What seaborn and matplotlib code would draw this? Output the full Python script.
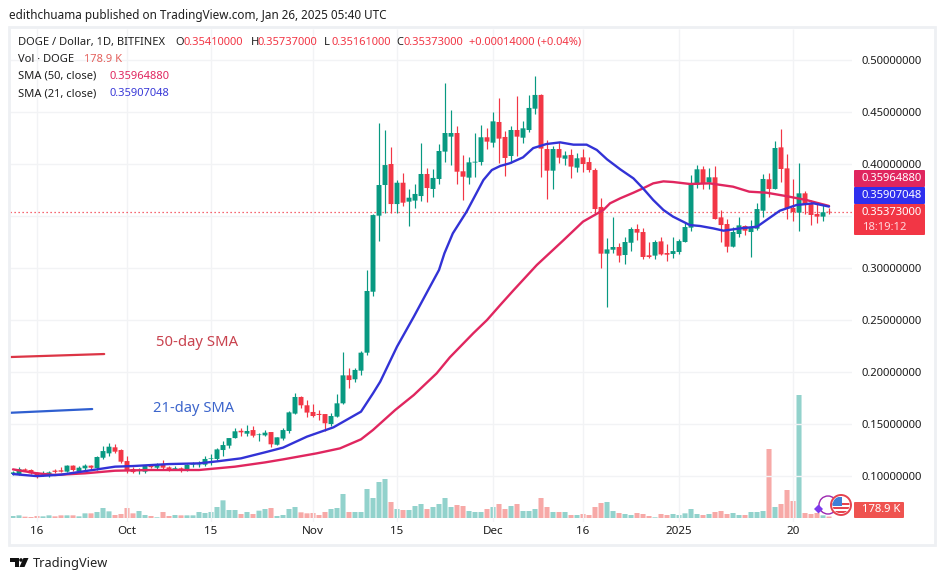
import matplotlib
matplotlib.use('Agg')
import matplotlib.pyplot as plt
import matplotlib.patches as patches
import pandas as pd
import seaborn as sns

# Daily candles, Sep 12 2024 to Jan 26 2025 (day 0 = Sep 12)
opens = [.102, .1019, .1064, .1058, .1032, .1015, .1, .1052, .1055, .1042, .11, .1048, .1074, .11, .1077, .1176, .1218,
         .1276, .125, .1144, .1067, .1048, .1042, .11, .108, .1115, .1083, .1065, .1074, .1052, .1106, .1105, .1109,
         .1164, .1164, .125, .1292, .1365, .1435, .1407, .1442, .1394, .1391, .1423, .1301, .136, .1433, .16, .176,
         .168, .1616, .1597, .1596, .15, .1571, .1699, .1968, .193, .2013, .2186, .2772, .3503, .3798, .40, .3615,
         .382, .3638, .3648, .3692, .3904, .376, .3856, .4119, .4263, .4298, .393, .3869, .4014, .4019, .4257, .4205,
         .4404, .426, .4077, .4327, .4253, .4327, .4532, .4664, .4144, .3936, .4144, .4051, .4087, .3965, .4064, .4019,
         .3942, .3587, .3138, .3176, .3202, .3125, .3243, .3375, .3346, .3122, .3119, .3256, .3144, .3135, .3154, .325,
         .3388, .3801, .3949, .3822, .3872, .3487, .3423, .3205, .3327, .3404, .3346, .3378, .3551, .3853, .376, .416,
         .3958, .3577, .3532, .3718, .3615, .3519, .3494, .3541]
highs = [.105, .1083, .1075, .1065, .104, .1045, .1052, .107, .1085, .111, .1105, .11, .1115, .111, .1195, .129, .1315,
         .1307, .126, .119, .1085, .108, .1105, .111, .113, .115, .1095, .11, .109, .112, .1135, .114, .119, .121,
         .1265, .1335, .137, .1465, .1465, .1495, .148, .1415, .1445, .1425, .1375, .1465, .1625, .1795, .177, .1728,
         .169, .1635, .1596, .1603, .1789, .2193, .2036, .2036, .2205, .2981, .352, .4391, .4327, .4166, .3846, .3916,
         .3759, .3805, .4199, .3958, .3949, .4192, .4776, .452, .4366, .4087, .4064, .4295, .4375, .4343, .4497, .4632,
         .4321, .4366, .4654, .4414, .4664, .4846, .4673, .4231, .4173, .4215, .4128, .4141, .4109, .4144, .4064,
         .3958, .367, .3285, .3487, .3237, .3295, .3397, .342, .3381, .3247, .3269, .3301, .3227, .3295, .3279, .3445,
         .3894, .399, .3981, .3958, .3981, .3558, .3468, .3397, .3487, .341, .3462, .3622, .3904, .391, .4224, .4336,
         .4096, .3853, .4006, .3744, .3654, .3622, .3606, .35737]
lows = [.101, .1013, .1045, .1015, .0985, .1, .099, .103, .1035, .104, .1045, .103, .106, .1065, .106, .116, .119,
        .122, .1125, .1025, .103, .1015, .103, .1075, .107, .107, .1045, .1055, .1035, .1045, .1085, .109, .1095,
        .1105, .1155, .119, .1265, .1365, .1385, .1385, .1375, .1335, .1385, .128, .1295, .135, .1415, .1593, .165,
        .157, .1565, .1539, .1436, .148, .1564, .1693, .185, .1907, .1972, .2163, .2734, .3263, .3525, .3532, .3532,
        .3596, .3407, .358, .3648, .3638, .3686, .3808, .4023, .399, .3808, .3654, .3808, .3875, .399, .4144, .4167,
        .4013, .3885, .4013, .4077, .4205, .4305, .4478, .3878, .3664, .376, .4007, .399, .3869, .3926, .3926, .3926,
        .3519, .3003, .2628, .3147, .3061, .3035, .3163, .3269, .3086, .3099, .3083, .3125, .3067, .3099, .3131, .325,
        .3359, .3772, .376, .376, .3471, .3253, .3157, .3205, .3295, .3317, .3109, .3365, .3494, .3679, .376, .383,
        .3468, .3455, .3359, .3519, .3413, .3429, .3455, .35161]
closes = [.1035, .1067, .1052, .1026, .0994, .1027, .1035, .104, .1042, .11, .1058, .108, .11, .108, .1183, .124, .1282,
          .1234, .1138, .1048, .1038, .1057, .1096, .1085, .1115, .108, .1058, .1075, .1052, .1106, .1112, .111, .1164,
          .117, .1256, .1298, .1365, .143, .142, .1433, .1388, .14, .1417, .1305, .1372, .1442, .1612, .176, .168,
          .161, .1577, .1587, .1507, .1577, .1699, .1968, .1923, .202, .2186, .2779, .3509, .3798, .399, .3615, .382,
          .3628, .3676, .3712, .3904, .3769, .3866, .4125, .4298, .4298, .3926, .3878, .4016, .4022, .4257, .4215, .441,
          .4244, .4058, .4327, .4263, .4343, .4539, .4664, .4148, .3936, .4144, .4061, .4083, .3975, .4055, .40, .3942,
          .3567, .3138, .3179, .3202, .3119, .325, .3375, .334, .3106, .3106, .325, .3131, .3128, .3163, .3259, .3394,
          .3808, .3949, .3808, .3872, .3471, .3413, .3205, .3346, .341, .3359, .3385, .3567, .3856, .376, .4154, .3952,
          .3574, .3538, .3718, .3615, .351, .3494, .35359, .35373]
# volume in millions of DOGE
volumes = [.24, .32, .16, .12, .24, .2, .32, .2, .32, .32, .32, .2, .56, .56, .72, 1.2, .8, .36, .48, 1.2, .56, .84, .36,
           .24, .08, .72, .24, .36, .32, .32, .32, .72, .6, .72, 1.32, 2.12, .96, .96, .48, .72, .48, .88, 1.08, 1.2,
           .24, .36, 1.08, 1.32, .68, .56, .6, .36, .72, 1.08, 1.2, 2.88, .72, .72, .72, 3.48, 2.4, 4.32, 4.68, 1.92,
           1.08, .96, .96, 1.44, 1.68, 1.08, 1.32, 1.68, 2.4, 1.32, 1.56, 1.44, .84, .72, .72, 1.08, 1.32, 1.68, 1.08,
           1.44, 1.68, .84, .84, 1.08, 2.4, 1.32, .72, .72, .72, .36, .36, .48, .36, 1.32, 1.8, 1.92, .84, .6, .48,
           .36, .6, .48, .24, .08, .48, .36, .48, .36, .56, 1.08, .48, .36, .48, .72, .84, .48, .6, .36, .36, .72, .72,
           .84, 8.28, 1.32, 1.68, 3.36, 2.04, 14.76, .6, .48, .6, .32, .179]

sma21_days = [0, 4, 8, 14, 17, 20, 26, 31, 34, 38, 42, 45, 49, 53.4, 58, 60, 61.2, 64, 66.8, 69.5, 71, 71.9, 73.3, 75.6,
              78.4, 79.8, 81.2, 82.8, 85, 86.7, 88.9, 91.2, 93.4, 95.6, 97.3, 99, 101.2, 103.4, 105, 106.7, 108.4, 110,
              112.8, 114.5, 116.7, 118.4, 121.2, 124, 125.6, 127.8, 130.6, 133.4, 136]
sma21 = [.1019, .0999, .1013, .1064, .109, .1096, .1115, .1122, .1141, .117, .1228, .1273, .1379, .1468, .1619, .1795,
         .1907, .2244, .2532, .2821, .2981, .3141, .3333, .3542, .3846, .3942, .3981, .4007, .4064, .4153, .4192, .4208,
         .4186, .4186, .4135, .4045, .3949, .3862, .3766, .3654, .3558, .3494, .3413, .3404, .3381, .3359, .3381, .3397,
         .3462, .3551, .3606, .3622, .35907]
sma50_days = [0, 4, 7, 12, 17, 23, 31, 37, 42, 45, 50.6, 54.5, 58, 60, 63.7, 66.8, 70.6, 72.8, 76.7, 79, 81.2, 83.4,
              87.3, 91.7, 95, 98.4, 99.5, 101.2, 103.4, 105, 106.7, 108.4, 110, 112.8, 116.1, 120, 122.7, 125.6, 128.8,
              132.2, 136]
sma50 = [.1064, .1026, .101, .1026, .1051, .1058, .1058, .109, .1131, .116, .1218, .1266, .1353, .1443, .1635, .1779,
         .1987, .2141, .2372, .25, .2644, .2785, .3029, .3265, .3446, .3558, .3622, .367, .3724, .3766, .3814, .3833,
         .3827, .3808, .3814, .3782, .3734, .3724, .3692, .3654, .35965]

price_ticks = [.10, .15, .20, .25, .30, .40, .45, .50]
grid_prices = [.10, .15, .20, .25, .30, .35, .40, .45, .50]
date_ticks = [4, 19, 33, 50, 64, 80, 95, 111, 130]
date_labels = ['16', 'Oct', '15', 'Nov', '15', 'Dec', '16', '2025', '20']
last_close = .35373

# hand drawn notes on the chart
note50_days, note50_prices = [-0.5, 15.2], [.2144, .2173]
note21_days, note21_prices = [-0.5, 13.2], [.1608, .1644]

GREEN, RED = '#089981', '#f23645'
VOL_GREEN, VOL_RED = '#92d2cc', '#f7a9a7'
BLUE_LINE, PINK_LINE = '#3232d6', '#e0265f'
GRID = '#f2f3f5'
FONT = 'Noto Sans'

df = pd.DataFrame({'day': range(len(closes)), 'open': opens, 'high': highs, 'low': lows, 'close': closes,
                   'volume': volumes})
df['up'] = df['close'] >= df['open']

sns.set_theme(style='white')
plt.rcParams['font.family'] = [FONT, 'DejaVu Sans']

W, H = 945, 581
fig = plt.figure(figsize=(W / 100, H / 100), dpi=100, facecolor='white')
pos = [10 / W, 1 - 522 / H, 842 / W, 493 / H]
ax = fig.add_axes(pos)
ax_vol = ax.twinx()
ax.set_zorder(2)
ax_vol.set_zorder(1)
ax.patch.set_visible(False)

# volume along the bottom
sns.barplot(data=df, x='day', y='volume', hue='up', palette={True: VOL_GREEN, False: VOL_RED}, native_scale=True,
            dodge=False, saturation=1, width=0.8, linewidth=0, legend=False, ax=ax_vol)
# seaborn narrows the bars with native_scale, put them back to nearly touching
for p in ax_vol.patches:
    center = p.get_x() + p.get_width() / 2
    p.set_width(0.84)
    p.set_x(center - 0.42)
    p.set_edgecolor('none')
    p.set_snap(False)
ax_vol.set_ylim(-0.48, 58.68)
ax_vol.set_axis_off()

# grid
ax.hlines(grid_prices, -0.5, 139.83, color=GRID, lw=1, zorder=0)
ax.vlines(date_ticks, .0558, .5298, color=GRID, lw=1, zorder=0)

# candles
colors = [GREEN if u else RED for u in df['up']]
ax.vlines(df['day'], df['low'], df['high'], color=colors, lw=0.85, zorder=2)
bodies = ax.bar(df['day'], (df['close'] - df['open']).abs(), bottom=df[['open', 'close']].min(axis=1), width=0.82,
                color=colors, linewidth=0, zorder=3)
for b in bodies:
    b.set_snap(False)

# last price line
ax.axhline(last_close, color=RED, lw=0.9, ls=(0, (1, 2.2)), zorder=1)

# moving averages
sns.lineplot(x=sma50_days, y=sma50, color=PINK_LINE, lw=1.7, ax=ax, zorder=4)
sns.lineplot(x=sma21_days, y=sma21, color=BLUE_LINE, lw=1.7, ax=ax, zorder=4)
ax.plot(note50_days, note50_prices, color='#dc3545', lw=1.6, zorder=4)
ax.plot(note21_days, note21_prices, color='#2f5fd0', lw=1.6, zorder=4)

ax.set_xlim(-0.5, 139.83)
ax.set_ylim(.0558, .5298)
ax.yaxis.tick_right()
ax.set_yticks(price_ticks)
ax.set_yticklabels(['%.8f' % p for p in price_ticks], fontsize=8.1, color='#1c1c1c')
ax.set_xticks(date_ticks)
ax.set_xticklabels(date_labels, fontsize=8.4, color='#1c1c1c')
ax.get_xticklabels()[date_labels.index('2025')].set_fontweight('bold')
ax.tick_params(axis='y', length=0, pad=7)
ax.tick_params(axis='x', length=0, pad=3)
for s in ax.spines.values():
    s.set_visible(False)
ax.set_xlabel('')
ax.set_ylabel('')

# everything around the plot goes on an overlay in pixel units
ov = fig.add_axes([0, 0, 1, 1], zorder=5)
ov.set_xlim(0, W)
ov.set_ylim(H, 0)
ov.set_axis_off()
ov.patch.set_visible(False)


def label(x, y, s, color='#1f1f1f', size=8.0, **kw):
    ov.text(x, y, s, color=color, fontsize=size, va='center', ha=kw.pop('ha', 'left'), **kw)


ov.add_patch(patches.Rectangle((9, 27), 926, 518, fc='none', ec='#eef0f3', lw=2))
label(9, 15, 'edithchuama published on TradingView.com, Jan 26, 2025 05:40 UTC', size=8.45)

label(18, 42.5, 'DOGE / Dollar, 1D, BITFINEX')
for x, s in [(175, 'O'), (251, 'H'), (324, 'L'), (396, 'C')]:
    label(x, 42.5, s)
for x, s in [(184, '0.35410000'), (258, '0.35737000'), (331, '0.35161000'), (404, '0.35373000'),
             (469, '+0.00014000 (+0.04%)')]:
    label(x, 42.5, s, color=RED)
label(18, 59.5, 'Vol · DOGE')
label(84, 59.5, '178.9 K', color='#e4605c')
label(18, 76.5, 'SMA (50, close)')
label(110, 76.5, '0.35964880', color='#e0265f')
label(18, 93.5, 'SMA (21, close)')
label(110, 93.5, '0.35907048', color='#3a3ad8')

label(156, 343, '50-day SMA', color='#c9434f', size=10.7)
label(153, 409, '21-day SMA', color='#3d66cc', size=10.6)

# price badges
for y0, y1, c in [(170, 187, '#e0265f'), (187, 204, '#2f2fee'), (204, 235, RED), (502, 518, '#ef5350')]:
    w = 50 if y0 == 502 else 71
    ov.add_patch(patches.FancyBboxPatch((854, y0), w, y1 - y0, boxstyle='round,pad=0,rounding_size=1', fc=c, ec='none'))
label(862, 178.5, '0.35964880', color='white', size=8.1)
label(862, 195.5, '0.35907048', color='white', size=8.1)
label(862, 212.5, '0.35373000', color='white', size=8.1)
label(862, 227, '18:19:12', color='#ffd6da', size=8.1)
label(862, 510, '178.9 K', color='white', size=8.1)

# indicator icons over the last volume bars
ov.add_patch(patches.Circle((828, 505), 9, fc='white', ec='#9c27b0', lw=1))
star = patches.RegularPolygon((818.5, 509), 4, radius=4.5, fc='#7c3aed', ec='none')
ov.add_patch(star)
ov.add_patch(patches.Circle((841, 505), 10, fc='white', ec='#e5434f', lw=1.4))
flag_clip = patches.Circle((841, 505), 8.5, transform=ov.transData)
for y in [503, 507, 511]:
    r = patches.Rectangle((832, y), 18, 2.2, fc='#e5434f', ec='none')
    ov.add_patch(r)
    r.set_clip_path(flag_clip)
canton = patches.Rectangle((832, 497), 9.5, 9, fc='#3f7fd8', ec='none')
ov.add_patch(canton)
canton.set_clip_path(flag_clip)

# logo
ov.add_patch(patches.Polygon([(10, 558), (19, 558), (19, 567), (14.5, 567), (14.5, 561.5), (10, 561.5)], fc='#111', ec='none'))
ov.add_patch(patches.Circle((21, 560), 1.8, fc='#111', ec='none'))
ov.add_patch(patches.Polygon([(23.5, 558), (28.5, 558), (24.5, 567), (19.5, 567)], fc='#111', ec='none'))
label(33, 563, 'TradingView', size=9.2, color='#222')

fig.savefig('out.png', dpi=100)
